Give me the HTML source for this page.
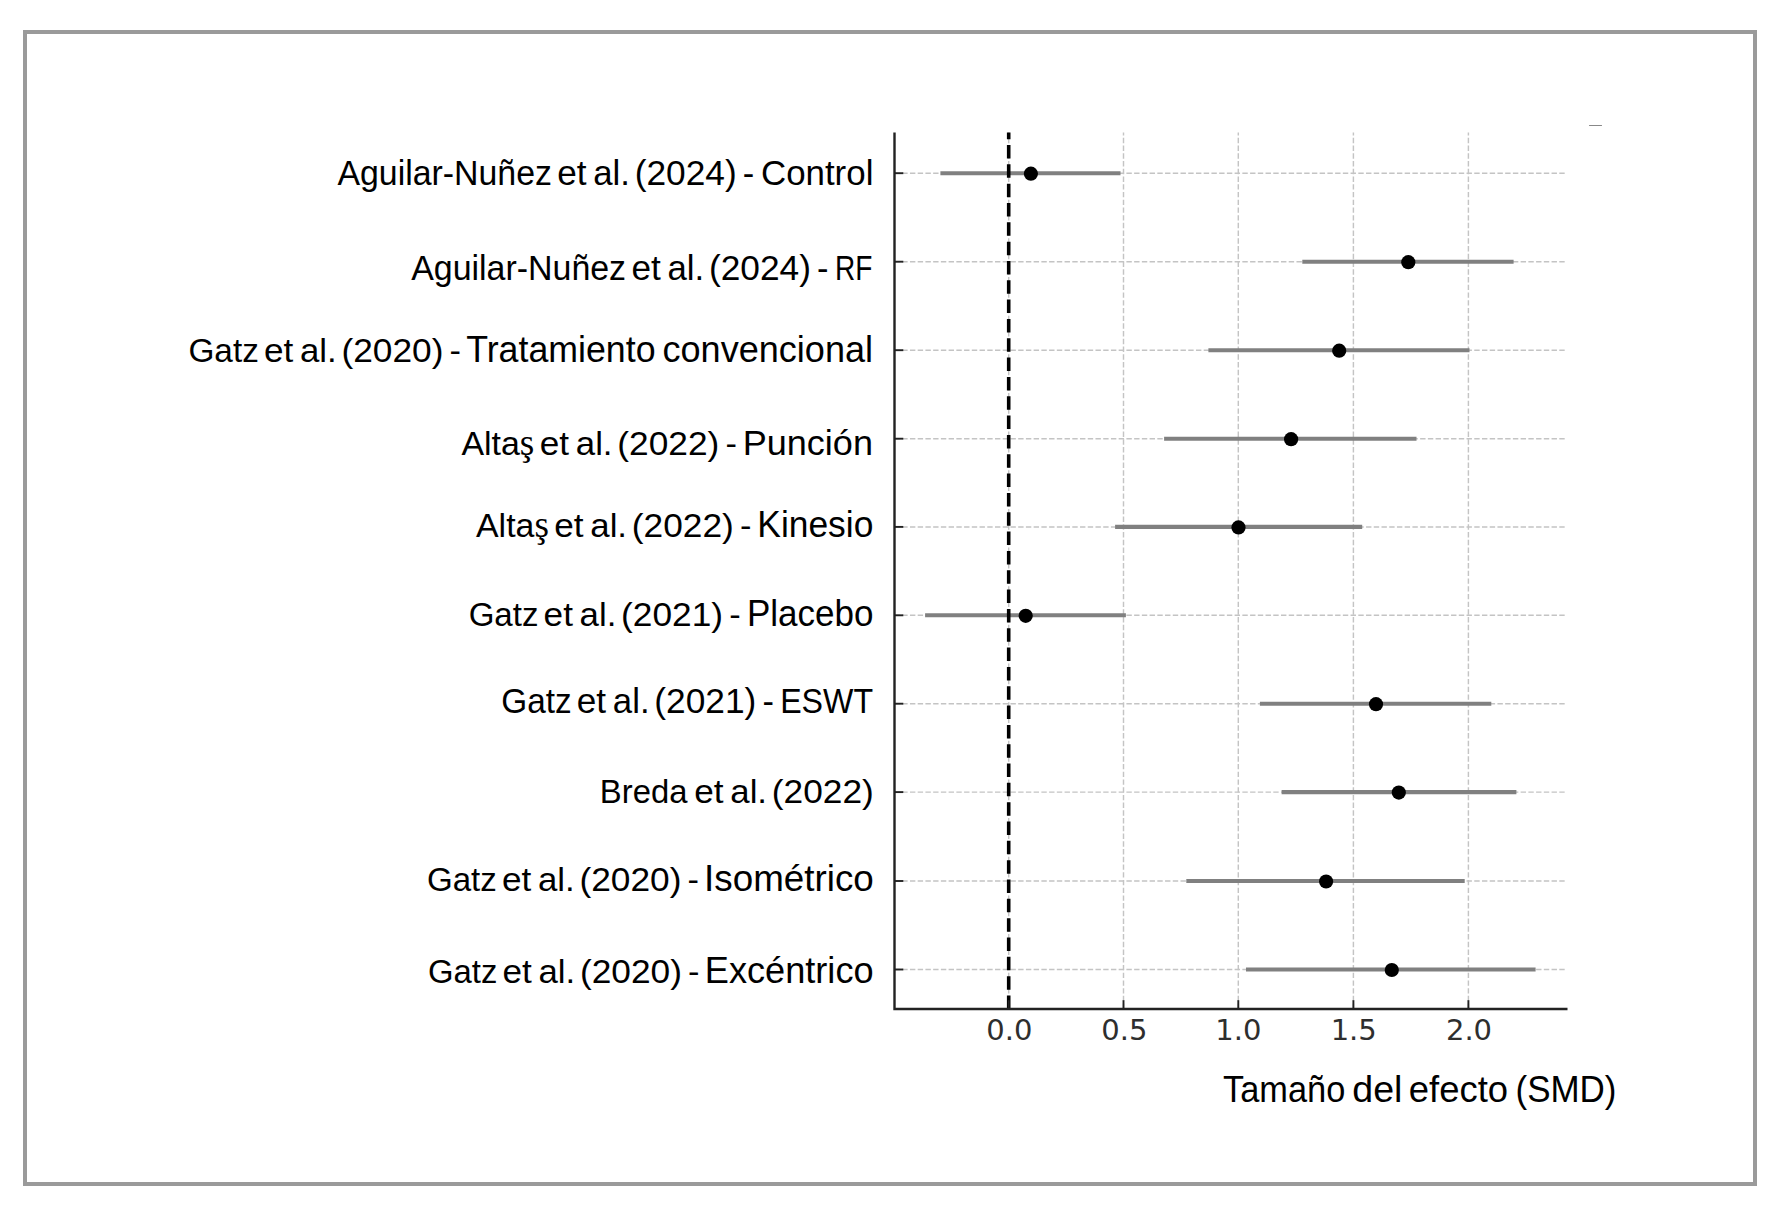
<!DOCTYPE html>
<html lang="es">
<head>
<meta charset="utf-8">
<title>Forest plot - Tamaño del efecto (SMD)</title>
<style>
html,body{margin:0;padding:0;background:#fff;}
body{width:1789px;height:1212px;overflow:hidden;position:relative;}
.frame{position:absolute;left:23px;top:30px;width:1726px;height:1148px;border:4px solid #9a9a9a;}
svg{position:absolute;left:0;top:0;}
text{white-space:pre;}
</style>
</head>
<body>
<div class="frame"></div>
<svg width="1789" height="1212" viewBox="0 0 1789 1212">
<g stroke="#c4c4c4" stroke-width="1.45" stroke-dasharray="5.4 2.33" fill="none">
<line x1="1008.7" y1="1009.0" x2="1008.7" y2="132.4"/>
<line x1="1123.5" y1="1009.0" x2="1123.5" y2="132.4"/>
<line x1="1238.3" y1="1009.0" x2="1238.3" y2="132.4"/>
<line x1="1353.4" y1="1009.0" x2="1353.4" y2="132.4"/>
<line x1="1468.4" y1="1009.0" x2="1468.4" y2="132.4"/>
<line x1="894.5" y1="173.2" x2="1565.0" y2="173.2"/>
<line x1="894.5" y1="261.7" x2="1565.0" y2="261.7"/>
<line x1="894.5" y1="350.2" x2="1565.0" y2="350.2"/>
<line x1="894.5" y1="438.7" x2="1565.0" y2="438.7"/>
<line x1="894.5" y1="526.9" x2="1565.0" y2="526.9"/>
<line x1="894.5" y1="615.3" x2="1565.0" y2="615.3"/>
<line x1="894.5" y1="703.7" x2="1565.0" y2="703.7"/>
<line x1="894.5" y1="792.1" x2="1565.0" y2="792.1"/>
<line x1="894.5" y1="881.0" x2="1565.0" y2="881.0"/>
<line x1="894.5" y1="969.5" x2="1565.0" y2="969.5"/>
</g>
<g stroke="#808080" stroke-width="4.1" fill="none">
<line x1="940.4" y1="173.2" x2="1120.5" y2="173.2"/>
<line x1="1302.3" y1="261.7" x2="1513.6" y2="261.7"/>
<line x1="1208.4" y1="350.2" x2="1469.5" y2="350.2"/>
<line x1="1164.1" y1="438.7" x2="1416.5" y2="438.7"/>
<line x1="1115.1" y1="526.9" x2="1362.2" y2="526.9"/>
<line x1="925.1" y1="615.3" x2="1125.9" y2="615.3"/>
<line x1="1259.9" y1="703.7" x2="1491.3" y2="703.7"/>
<line x1="1281.6" y1="792.1" x2="1516.4" y2="792.1"/>
<line x1="1186.3" y1="881.0" x2="1464.7" y2="881.0"/>
<line x1="1246.0" y1="969.5" x2="1535.6" y2="969.5"/>
</g>
<line x1="1008.7" y1="1009.0" x2="1008.7" y2="132.4" stroke="#000" stroke-width="3.6" stroke-dasharray="13.5 5.83"/>
<g fill="#000">
<circle cx="1030.9" cy="173.7" r="7.1"/>
<circle cx="1408.3" cy="262.2" r="7.1"/>
<circle cx="1339.2" cy="350.7" r="7.1"/>
<circle cx="1291.1" cy="439.2" r="7.1"/>
<circle cx="1238.5" cy="527.4" r="7.1"/>
<circle cx="1025.7" cy="615.8" r="7.1"/>
<circle cx="1376.0" cy="704.2" r="7.1"/>
<circle cx="1398.8" cy="792.6" r="7.1"/>
<circle cx="1326.1" cy="881.5" r="7.1"/>
<circle cx="1391.8" cy="970.0" r="7.1"/>
</g>
<g stroke="#222" stroke-width="1.9" fill="none">
<line x1="1008.7" y1="1009.0" x2="1008.7" y2="1000.2"/>
<line x1="1123.5" y1="1009.0" x2="1123.5" y2="1000.2"/>
<line x1="1238.3" y1="1009.0" x2="1238.3" y2="1000.2"/>
<line x1="1353.4" y1="1009.0" x2="1353.4" y2="1000.2"/>
<line x1="1468.4" y1="1009.0" x2="1468.4" y2="1000.2"/>
<line x1="894.5" y1="173.2" x2="903.3" y2="173.2"/>
<line x1="894.5" y1="261.7" x2="903.3" y2="261.7"/>
<line x1="894.5" y1="350.2" x2="903.3" y2="350.2"/>
<line x1="894.5" y1="438.7" x2="903.3" y2="438.7"/>
<line x1="894.5" y1="526.9" x2="903.3" y2="526.9"/>
<line x1="894.5" y1="615.3" x2="903.3" y2="615.3"/>
<line x1="894.5" y1="703.7" x2="903.3" y2="703.7"/>
<line x1="894.5" y1="792.1" x2="903.3" y2="792.1"/>
<line x1="894.5" y1="881.0" x2="903.3" y2="881.0"/>
<line x1="894.5" y1="969.5" x2="903.3" y2="969.5"/>
</g>
<path d="M894.5 132.4 V1009.0 H1567.5" stroke="#222" stroke-width="2.4" fill="none" stroke-linejoin="miter"/>
<line x1="1589.5" y1="125.5" x2="1601.5" y2="125.5" stroke="#888" stroke-width="1.1" stroke-linecap="round"/>
<text transform="translate(986.25 1040.00) scale(1.0000 1)" font-size="29.0" font-family="'DejaVu Sans', sans-serif" fill="#2e2e2e">0.0</text>
<text transform="translate(1101.34 1040.00) scale(1.0000 1)" font-size="29.0" font-family="'DejaVu Sans', sans-serif" fill="#2e2e2e">0.5</text>
<text transform="translate(1215.26 1040.00) scale(1.0000 1)" font-size="29.0" font-family="'DejaVu Sans', sans-serif" fill="#2e2e2e">1.0</text>
<text transform="translate(1330.65 1040.00) scale(1.0000 1)" font-size="29.0" font-family="'DejaVu Sans', sans-serif" fill="#2e2e2e">1.5</text>
<text transform="translate(1445.94 1040.00) scale(1.0000 1)" font-size="29.0" font-family="'DejaVu Sans', sans-serif" fill="#2e2e2e">2.0</text>
<g class="label">
<text transform="translate(337.40 185.00) scale(0.9902 1)" font-size="34.2" font-family="'Liberation Sans', sans-serif" fill="#000">Aguilar-Nuñez</text>
<text transform="translate(557.19 185.00) scale(1.0289 1)" font-size="34.2" font-family="'Liberation Sans', sans-serif" fill="#000">et</text>
<text transform="translate(593.21 185.00) scale(1.0170 1)" font-size="34.2" font-family="'Liberation Sans', sans-serif" fill="#000">al.</text>
<text transform="translate(634.68 185.00) scale(1.0324 1)" font-size="34.2" font-family="'Liberation Sans', sans-serif" fill="#000">(2024)</text>
<text transform="translate(742.82 185.00) scale(1.0058 1)" font-size="34.2" font-family="'Liberation Sans', sans-serif" fill="#000">-</text>
<text transform="translate(760.96 185.00) scale(1.0201 1)" font-size="34.2" font-family="'Liberation Sans', sans-serif" fill="#000">Control</text>
</g>
<g class="label">
<text transform="translate(411.20 279.90) scale(0.9920 1)" font-size="34.2" font-family="'Liberation Sans', sans-serif" fill="#000">Aguilar-Nuñez</text>
<text transform="translate(631.39 279.90) scale(1.0289 1)" font-size="34.2" font-family="'Liberation Sans', sans-serif" fill="#000">et</text>
<text transform="translate(667.41 279.90) scale(1.0170 1)" font-size="34.2" font-family="'Liberation Sans', sans-serif" fill="#000">al.</text>
<text transform="translate(708.88 279.90) scale(1.0324 1)" font-size="34.2" font-family="'Liberation Sans', sans-serif" fill="#000">(2024)</text>
<text transform="translate(817.02 279.90) scale(1.0058 1)" font-size="34.2" font-family="'Liberation Sans', sans-serif" fill="#000">-</text>
<text transform="translate(835.06 279.90) scale(0.8192 1)" font-size="34.2" font-family="'Liberation Sans', sans-serif" fill="#000">RF</text>
</g>
<g class="label">
<text transform="translate(188.43 361.90) scale(0.9804 1)" font-size="34.0" font-family="'Liberation Sans', sans-serif" fill="#000">Gatz</text>
<text transform="translate(263.89 361.90) scale(1.0350 1)" font-size="34.0" font-family="'Liberation Sans', sans-serif" fill="#000">et</text>
<text transform="translate(299.91 361.90) scale(1.0230 1)" font-size="34.0" font-family="'Liberation Sans', sans-serif" fill="#000">al.</text>
<text transform="translate(341.38 361.90) scale(1.0384 1)" font-size="34.0" font-family="'Liberation Sans', sans-serif" fill="#000">(2020)</text>
<text transform="translate(449.52 361.90) scale(1.0118 1)" font-size="34.0" font-family="'Liberation Sans', sans-serif" fill="#000">-</text>
<text transform="translate(466.18 361.90) scale(0.9718 1)" font-size="36.8" font-family="'Liberation Sans', sans-serif" fill="#000">Tratamiento</text>
<text transform="translate(662.46 361.90) scale(0.9807 1)" font-size="36.8" font-family="'Liberation Sans', sans-serif" fill="#000">convencional</text>
</g>
<g class="label">
<text transform="translate(461.40 454.90) scale(0.9980 1)" font-size="34.0" font-family="'Liberation Sans', sans-serif" fill="#000">Alta<tspan font-family="'Liberation Serif', serif" font-size="1.1em">ş</tspan></text>
<text transform="translate(539.79 454.90) scale(1.0350 1)" font-size="34.0" font-family="'Liberation Sans', sans-serif" fill="#000">et</text>
<text transform="translate(575.81 454.90) scale(1.0230 1)" font-size="34.0" font-family="'Liberation Sans', sans-serif" fill="#000">al.</text>
<text transform="translate(617.28 454.90) scale(1.0384 1)" font-size="34.0" font-family="'Liberation Sans', sans-serif" fill="#000">(2022)</text>
<text transform="translate(725.42 454.90) scale(1.0118 1)" font-size="34.0" font-family="'Liberation Sans', sans-serif" fill="#000">-</text>
<text transform="translate(742.72 454.90) scale(1.0014 1)" font-size="36.0" font-family="'Liberation Sans', sans-serif" fill="#000">Punción</text>
</g>
<g class="label">
<text transform="translate(476.00 537.10) scale(0.9967 1)" font-size="34.0" font-family="'Liberation Sans', sans-serif" fill="#000">Alta<tspan font-family="'Liberation Serif', serif" font-size="1.1em">ş</tspan></text>
<text transform="translate(554.29 537.10) scale(1.0350 1)" font-size="34.0" font-family="'Liberation Sans', sans-serif" fill="#000">et</text>
<text transform="translate(590.31 537.10) scale(1.0230 1)" font-size="34.0" font-family="'Liberation Sans', sans-serif" fill="#000">al.</text>
<text transform="translate(631.78 537.10) scale(1.0384 1)" font-size="34.0" font-family="'Liberation Sans', sans-serif" fill="#000">(2022)</text>
<text transform="translate(739.92 537.10) scale(1.0118 1)" font-size="34.0" font-family="'Liberation Sans', sans-serif" fill="#000">-</text>
<text transform="translate(757.27 537.10) scale(0.9782 1)" font-size="36.2" font-family="'Liberation Sans', sans-serif" fill="#000">Kinesio</text>
</g>
<g class="label">
<text transform="translate(468.65 625.60) scale(0.9731 1)" font-size="34.0" font-family="'Liberation Sans', sans-serif" fill="#000">Gatz</text>
<text transform="translate(543.59 625.60) scale(1.0350 1)" font-size="34.0" font-family="'Liberation Sans', sans-serif" fill="#000">et</text>
<text transform="translate(579.61 625.60) scale(1.0230 1)" font-size="34.0" font-family="'Liberation Sans', sans-serif" fill="#000">al.</text>
<text transform="translate(621.08 625.60) scale(1.0384 1)" font-size="34.0" font-family="'Liberation Sans', sans-serif" fill="#000">(2021)</text>
<text transform="translate(729.22 625.60) scale(1.0118 1)" font-size="34.0" font-family="'Liberation Sans', sans-serif" fill="#000">-</text>
<text transform="translate(746.90 625.60) scale(0.9680 1)" font-size="36.2" font-family="'Liberation Sans', sans-serif" fill="#000">Placebo</text>
</g>
<g class="label">
<text transform="translate(501.33 713.40) scale(0.9747 1)" font-size="34.2" font-family="'Liberation Sans', sans-serif" fill="#000">Gatz</text>
<text transform="translate(576.79 713.40) scale(1.0289 1)" font-size="34.2" font-family="'Liberation Sans', sans-serif" fill="#000">et</text>
<text transform="translate(612.81 713.40) scale(1.0170 1)" font-size="34.2" font-family="'Liberation Sans', sans-serif" fill="#000">al.</text>
<text transform="translate(654.28 713.40) scale(1.0324 1)" font-size="34.2" font-family="'Liberation Sans', sans-serif" fill="#000">(2021)</text>
<text transform="translate(762.42 713.40) scale(1.0058 1)" font-size="34.2" font-family="'Liberation Sans', sans-serif" fill="#000">-</text>
<text transform="translate(780.13 713.40) scale(0.9196 1)" font-size="35.0" font-family="'Liberation Sans', sans-serif" fill="#000">ESWT</text>
</g>
<g class="label">
<text transform="translate(599.87 802.50) scale(0.9653 1)" font-size="34.0" font-family="'Liberation Sans', sans-serif" fill="#000">Breda</text>
<text transform="translate(694.29 802.50) scale(1.0350 1)" font-size="34.0" font-family="'Liberation Sans', sans-serif" fill="#000">et</text>
<text transform="translate(730.31 802.50) scale(1.0230 1)" font-size="34.0" font-family="'Liberation Sans', sans-serif" fill="#000">al.</text>
<text transform="translate(771.78 802.50) scale(1.0384 1)" font-size="34.0" font-family="'Liberation Sans', sans-serif" fill="#000">(2022)</text>
</g>
<g class="label">
<text transform="translate(426.95 890.50) scale(0.9731 1)" font-size="34.0" font-family="'Liberation Sans', sans-serif" fill="#000">Gatz</text>
<text transform="translate(501.89 890.50) scale(1.0350 1)" font-size="34.0" font-family="'Liberation Sans', sans-serif" fill="#000">et</text>
<text transform="translate(537.91 890.50) scale(1.0230 1)" font-size="34.0" font-family="'Liberation Sans', sans-serif" fill="#000">al.</text>
<text transform="translate(579.38 890.50) scale(1.0384 1)" font-size="34.0" font-family="'Liberation Sans', sans-serif" fill="#000">(2020)</text>
<text transform="translate(687.52 890.50) scale(1.0118 1)" font-size="34.0" font-family="'Liberation Sans', sans-serif" fill="#000">-</text>
<text transform="translate(704.09 890.50) scale(1.0002 1)" font-size="36.8" font-family="'Liberation Sans', sans-serif" fill="#000">Isométrico</text>
</g>
<g class="label">
<text transform="translate(428.06 982.60) scale(0.9715 1)" font-size="33.8" font-family="'Liberation Sans', sans-serif" fill="#000">Gatz</text>
<text transform="translate(502.49 982.60) scale(1.0411 1)" font-size="33.8" font-family="'Liberation Sans', sans-serif" fill="#000">et</text>
<text transform="translate(538.51 982.60) scale(1.0291 1)" font-size="33.8" font-family="'Liberation Sans', sans-serif" fill="#000">al.</text>
<text transform="translate(579.98 982.60) scale(1.0446 1)" font-size="33.8" font-family="'Liberation Sans', sans-serif" fill="#000">(2020)</text>
<text transform="translate(688.12 982.60) scale(1.0178 1)" font-size="33.8" font-family="'Liberation Sans', sans-serif" fill="#000">-</text>
<text transform="translate(704.81 982.60) scale(0.9938 1)" font-size="36.4" font-family="'Liberation Sans', sans-serif" fill="#000">Excéntrico</text>
</g>
<g class="label">
<text transform="translate(1223.01 1102.20) scale(0.9240 1)" font-size="37.2" font-family="'Liberation Sans', sans-serif" fill="#000">Tamaño</text>
<text transform="translate(1352.30 1102.20) scale(1.0097 1)" font-size="37.2" font-family="'Liberation Sans', sans-serif" fill="#000">del</text>
<text transform="translate(1408.84 1102.20) scale(0.9796 1)" font-size="37.2" font-family="'Liberation Sans', sans-serif" fill="#000">efecto</text>
<text transform="translate(1515.50 1102.20) scale(0.9404 1)" font-size="37.2" font-family="'Liberation Sans', sans-serif" fill="#000">(SMD)</text>
</g>
</svg>
</body>
</html>
